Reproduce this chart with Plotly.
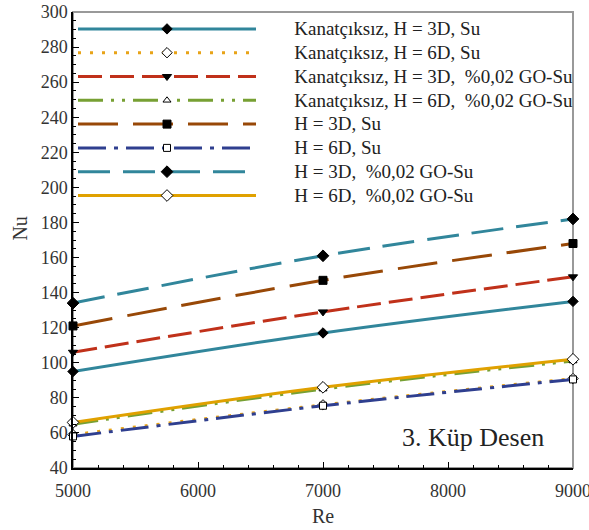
import plotly.graph_objects as go

re_vals = [5000, 7000, 9000]
names = [
    "Kanatçıksız, H = 3D, Su",
    "Kanatçıksız, H = 6D, Su",
    "Kanatçıksız, H = 3D, \u00a0%0,02 GO-Su",
    "Kanatçıksız, H = 6D, \u00a0%0,02 GO-Su",
    "H = 3D, Su",
    "H = 6D, Su",
    "H = 3D, \u00a0%0,02 GO-Su",
    "H = 6D, \u00a0%0,02 GO-Su",
]
nu_k3_su = [95, 117, 135]
nu_k6_su = [59, 76, 91]
nu_k3_go = [106, 129, 149]
nu_k6_go = [65, 85, 101]
nu_h3_su = [121, 147, 168]
nu_h6_su = [58, 75.5, 90.5]
nu_h3_go = [134, 161, 182]
nu_h6_go = [66, 86, 102]
series = [nu_k3_su, nu_k6_su, nu_k3_go, nu_k6_go, nu_h3_su, nu_h6_su, nu_h3_go, nu_h6_go]

colors = ["#31869B", "#E8A317", "#C0311A", "#77A033", "#984807", "#2F3F8F", "#31869B", "#E0A100"]
dashes = ["solid", "3px,9px", "24px,8px", "25px,8px,3px,8px,3px,8px", "40px,15px",
          "28px,8px,4px,8px", "32px,13px", "solid"]
symbols = ["diamond", "diamond", "triangle-down", "triangle-up", "square", "square", "diamond", "diamond"]
mfill = ["black", "white", "black", "white", "black", "white", "black", "white"]
msize = [8, 8, 8, 7, 8, 7, 9, 9]

pad = "\u00a0" * 7
fig = go.Figure()
for i in range(8):
    fig.add_trace(go.Scatter(
        x=re_vals, y=series[i],
        name='<span style="font-size:19px">' + pad + names[i] + "</span>",
        mode="lines+markers",
        line=dict(color=colors[i], width=3, dash=dashes[i], shape="spline"),
        marker=dict(symbol=symbols[i], size=msize[i], color=mfill[i],
                    line=dict(color="black", width=1)),
        cliponaxis=False,
    ))

axis_font = dict(family="Liberation Serif", size=18, color="#333")
title_font = dict(family="Liberation Serif", size=20, color="#333")
fig.update_layout(
    width=589, height=530,
    margin=dict(l=73, r=16, t=12, b=62),
    paper_bgcolor="white", plot_bgcolor="white",
    font=dict(family="Liberation Serif", color="#222"),
    showlegend=True,
    legend=dict(x=0, y=1.0, xanchor="left", yanchor="top", bgcolor="rgba(0,0,0,0)",
                font=dict(family="Liberation Serif", size=16, color="#222"),
                itemwidth=178, traceorder="normal", itemclick=False),
    xaxis=dict(range=[5000, 9000], dtick=1000, tickformat="d", showgrid=False, zeroline=False,
               showline=True, linecolor="black", linewidth=1.5, mirror=False, automargin=False,
               ticks="inside", ticklen=6, tickcolor="black", ticklabelstandoff=6,
               ticklabeloverflow="allow",
               minor=dict(dtick=200, ticks="inside", ticklen=3, tickcolor="black"),
               tickfont=axis_font,
               title=dict(text="Re", font=title_font, standoff=9)),
    yaxis=dict(range=[40, 300], dtick=20, showgrid=False, zeroline=False, automargin=False,
               showline=True, linecolor="black", linewidth=1.5,
               ticks="inside", ticklen=6, tickcolor="black", ticklabeloverflow="allow",
               minor=dict(dtick=5, ticks="inside", ticklen=3, tickcolor="black"),
               tickfont=axis_font),
    shapes=[dict(type="rect", xref="paper", yref="paper", x0=0, x1=1, y0=0, y1=1,
                 line=dict(color="#999", width=2), layer="below")],
    annotations=[
        dict(text="3. Küp Desen", xref="paper", yref="paper", x=0.945, y=0.03,
             xanchor="right", yanchor="bottom", showarrow=False,
             font=dict(family="Liberation Serif", size=26, color="#222")),
        dict(text="Nu", xref="paper", yref="paper", x=-0.106, y=0.525, textangle=-90,
             xanchor="center", yanchor="middle", showarrow=False, font=title_font),
    ],
)
fig.write_html("out.html")
